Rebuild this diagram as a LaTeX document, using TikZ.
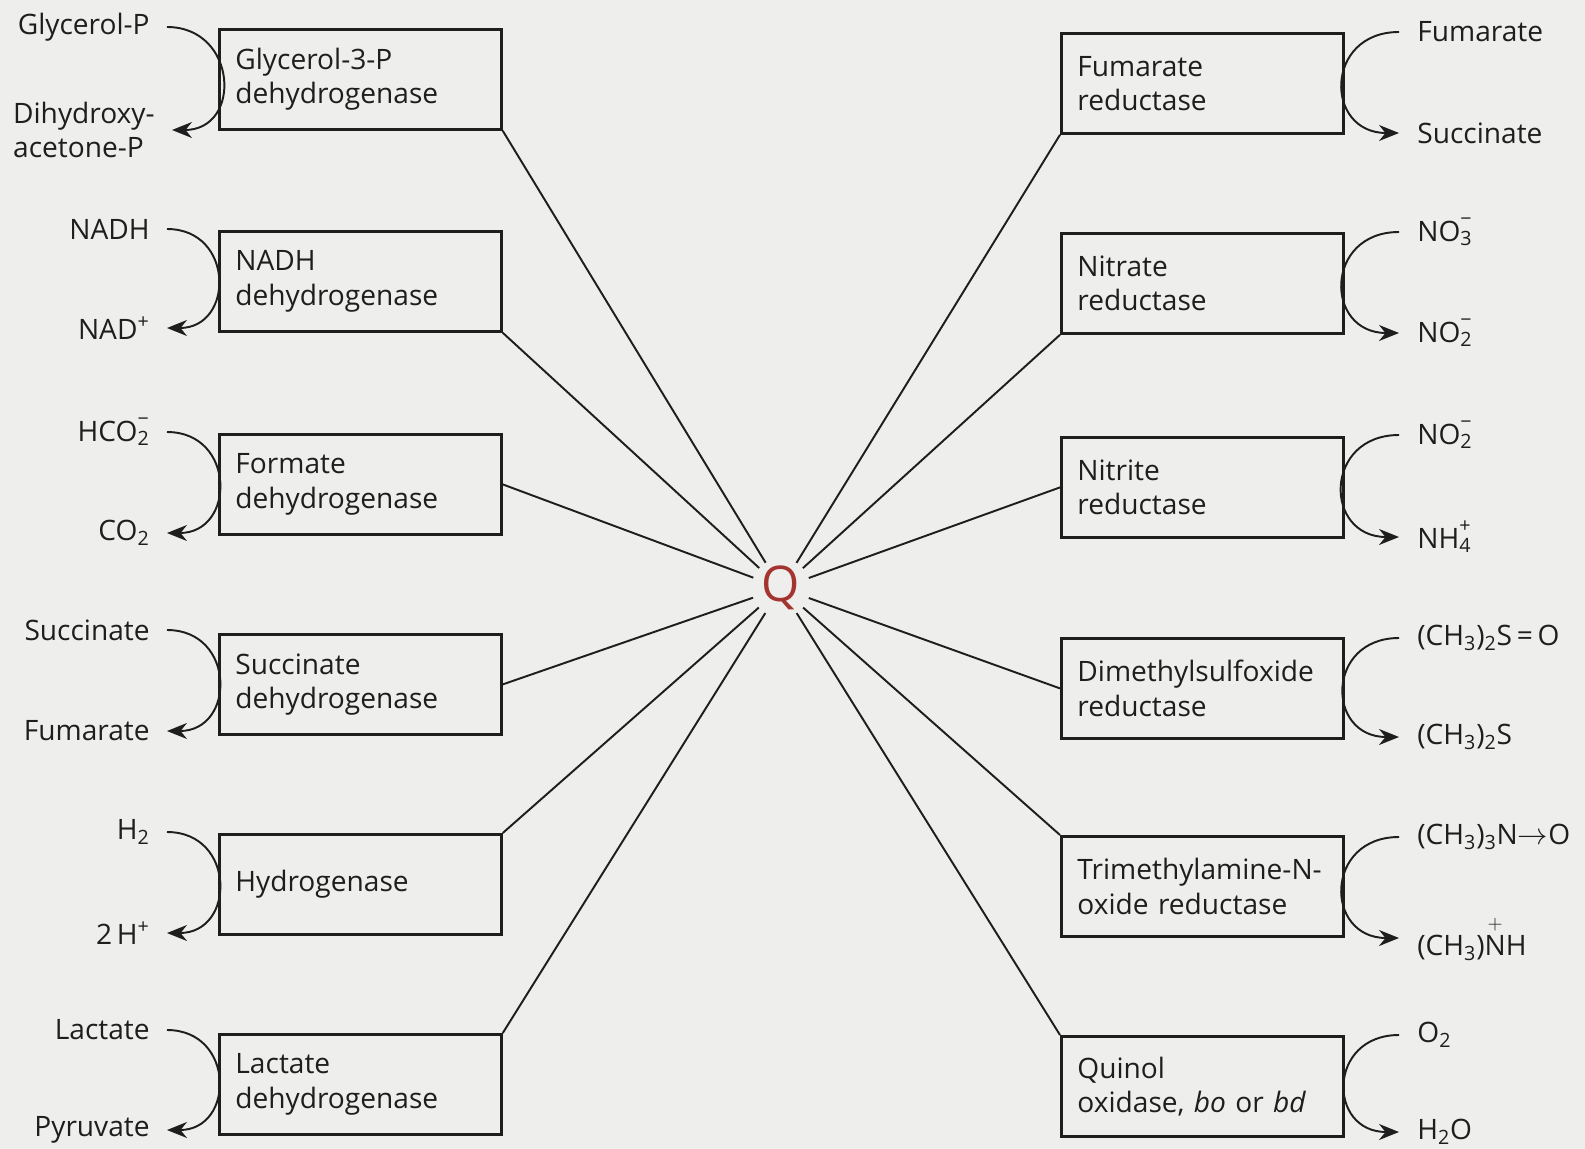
\documentclass[tikz,border=0pt]{standalone}
\usepackage{fontspec}
\usepackage{amsmath}
\setmainfont{Open Sans}
\usetikzlibrary{arrows.meta}

\definecolor{ink}{HTML}{1E1E1E}
\definecolor{qred}{HTML}{A3342F}
\definecolor{paper}{HTML}{EEEEEC}

\newcommand{\ionss}[2]{\makebox[0pt][l]{\raisebox{0.15em}{\textsuperscript{#2}}}\textsubscript{#1}}

\tikzset{
  enzyme/.style = {draw = ink, line width = 1.6pt, minimum height = 2cm, text width = 5cm, align = left, anchor = north west, text = ink, inner xsep = 0.32cm},
  subl/.style = {anchor = east, inner xsep = 0.34cm, text = ink},
  subr/.style = {anchor = west, inner xsep = 0.36cm, text = ink},
  rxn/.style = {draw = ink, line width = 1.1pt, -{Stealth[length = 0.4cm, width = 0.32cm]}},
  spoke/.style = {draw = ink, line width = 1.1pt},
  hub/.style = {circle, minimum size = 1.12cm, inner sep = 0pt, text = qred, font = \fontsize{28}{28}\selectfont}
}

\begin{document}
\begin{tikzpicture}[x = 0.02cm, y = -0.02cm, font = \fontsize{16}{19.5}\selectfont]
\useasboundingbox (0,0) rectangle (1585,1149);
\fill[paper] (0,0) rectangle (1585,1149);

\node[hub] (q) at (781,588) {Q};

\node[enzyme] (glyd) at (218,28) {Glycerol-3-P\\dehydrogenase};
\node[enzyme] (nadhd) at (218,230) {NADH\\dehydrogenase};
\node[enzyme] (formd) at (218,433) {Formate\\dehydrogenase};
\node[enzyme] (succd) at (218,633) {Succinate\\dehydrogenase};
\node[enzyme] (hyd) at (218,833) {Hydrogenase};
\node[enzyme] (lacd) at (218,1033) {Lactate\\dehydrogenase};

\node[enzyme] (fumr) at (1060,32) {Fumarate\\reductase};
\node[enzyme] (nitr) at (1060,232) {Nitrate\\reductase};
\node[enzyme] (nirr) at (1060,436) {Nitrite\\reductase};
\node[enzyme] (dmsr) at (1060,637) {Dimethylsulfoxide\\reductase};
\node[enzyme] (tmar) at (1060,835) {\mbox{Trimethylamine-N-}\\oxide reductase};
\node[enzyme] (qox) at (1060,1035) {Quinol\\oxidase, \textit{bo} or \textit{bd}};

\node[subl] (gp) at (167,27) {Glycerol-P};
\node[subl, align = left] (dhap) at (172,130) {Dihydroxy-\\acetone-P};
\node[subl] (nadh) at (167,229) {NADH};
\node[subl] (nad) at (167,328) {NAD\textsuperscript{+}};
\node[subl] (hco) at (167,432) {HCO\ionss{2}{−}};
\node[subl] (co) at (167,533) {CO\textsubscript{2}};
\node[subl] (suc) at (167,630) {Succinate};
\node[subl] (fum) at (167,731) {Fumarate};
\node[subl] (htwo) at (167,832) {H\textsubscript{2}};
\node[subl] (hplus) at (167,933) {2\,H\textsuperscript{+}};
\node[subl] (lac) at (167,1030) {Lactate};
\node[subl] (pyr) at (167,1130) {Pyruvate};

\node[subr] (fumb) at (1399,32) {Fumarate};
\node[subr] (sucb) at (1399,133) {Succinate};
\node[subr] (nothree) at (1399,232) {NO\ionss{3}{−}};
\node[subr] (notwo) at (1399,333) {NO\ionss{2}{−}};
\node[subr] (notwob) at (1399,435) {NO\ionss{2}{−}};
\node[subr] (nhfour) at (1399,537) {NH\ionss{4}{+}};
\node[subr] (dmso) at (1399,638) {(CH\textsubscript{3})\textsubscript{2}S\,=\,O};
\node[subr] (dms) at (1399,737) {(CH\textsubscript{3})\textsubscript{2}S};
\node[subr] (tmao) at (1399,837) {(CH\textsubscript{3})\textsubscript{3}N$\rightarrow$O};
\node[subr] (tma) at (1399,938) {(CH\textsubscript{3})$\overset{+}{\text{N}}$H};
\node[subr] (otwo) at (1399,1035) {O\textsubscript{2}};
\node[subr] (water) at (1399,1132) {H\textsubscript{2}O};

\draw[rxn] (gp.east) to[out = 0, in = 0, looseness = 1.75] (dhap.east);
\draw[rxn] (nadh.east) to[out = 0, in = 0, looseness = 1.75] (nad.east);
\draw[rxn] (hco.east) to[out = 0, in = 0, looseness = 1.75] (co.east);
\draw[rxn] (suc.east) to[out = 0, in = 0, looseness = 1.75] (fum.east);
\draw[rxn] (htwo.east) to[out = 0, in = 0, looseness = 1.75] (hplus.east);
\draw[rxn] (lac.east) to[out = 0, in = 0, looseness = 1.75] (pyr.east);

\draw[rxn] (fumb.west) to[out = 180, in = 180, looseness = 1.9] (sucb.west);
\draw[rxn] (nothree.west) to[out = 180, in = 180, looseness = 1.9] (notwo.west);
\draw[rxn] (notwob.west) to[out = 180, in = 180, looseness = 1.9] (nhfour.west);
\draw[rxn] (dmso.west) to[out = 180, in = 180, looseness = 1.9] (dms.west);
\draw[rxn] (tmao.west) to[out = 180, in = 180, looseness = 1.9] (tma.west);
\draw[rxn] (otwo.west) to[out = 180, in = 180, looseness = 1.9] (water.west);

\draw[spoke] (glyd.south east) -- (q);
\draw[spoke] (nadhd.south east) -- (q);
\draw[spoke] (formd.east) -- (q);
\draw[spoke] (succd.east) -- (q);
\draw[spoke] (hyd.north east) -- (q);
\draw[spoke] (lacd.north east) -- (q);
\draw[spoke] (fumr.south west) -- (q);
\draw[spoke] (nitr.south west) -- (q);
\draw[spoke] (nirr.west) -- (q);
\draw[spoke] (dmsr.west) -- (q);
\draw[spoke] (tmar.north west) -- (q);
\draw[spoke] (qox.north west) -- (q);
\end{tikzpicture}
\end{document}
